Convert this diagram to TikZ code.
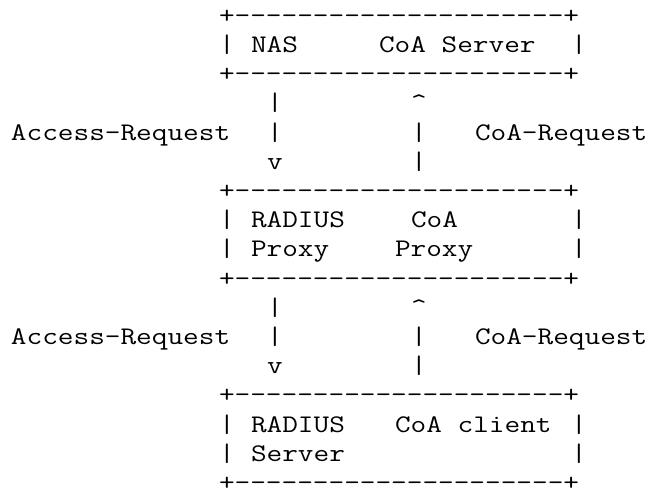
\documentclass[tikz,border=0pt]{standalone}
\usepackage{fontspec}
% typewriter face, widened so one character cell is 12pt
\newfontfamily\courfont{Latin Modern Mono}[FakeStretch=1.2, Ligatures=TeXOff]
\tikzset{
  mono/.style={font=\courfont\fontsize{19pt}{22pt}\selectfont,
    anchor=base west, inner sep=0pt, outer sep=0pt, text=black},
  rule/.style={mono, text depth=0pt}
}
% \cell{name}{column}{row}{text}: text placed on the character grid
\newcommand\cell[5][]{\node[mono,#1] (#2) at ({8.25pt+#3*12pt},{-17.5pt-#4*21.9pt}) {#5};}
\newcommand\boxrule{+---------------------+}
\begin{document}
\begin{tikzpicture}
\useasboundingbox (0,0) rectangle (489.75pt,-368.25pt);

% NAS / CoA Server
\cell[rule]{nasTop}{13}{0}{\boxrule}
\cell{nasL}{13}{1}{|}
\cell{nas}{15}{1}{NAS}
\cell{coaServer}{23}{1}{CoA Server}
\cell{nasR}{35}{1}{|}
\cell[rule]{nasBot}{13}{2}{\boxrule}

% first hop
\cell{arA1}{16}{3}{|}
\cell{coaUp1}{25}{3}{\textasciicircum}
\cell{accLbl1}{0}{4}{Access-Request}
\cell{arB1}{16}{4}{|}
\cell{coaB1}{25}{4}{|}
\cell{coaLbl1}{29}{4}{CoA-Request}
\cell{arDown1}{16}{5}{v}
\cell{coaC1}{25}{5}{|}

% RADIUS Proxy / CoA Proxy
\cell[rule]{pxTop}{13}{6}{\boxrule}
\cell{pxL1}{13}{7}{|}
\cell{radius1}{15}{7}{RADIUS}
\cell{coa1}{25}{7}{CoA}
\cell{pxR1}{35}{7}{|}
\cell{pxL2}{13}{8}{|}
\cell{proxyA}{15}{8}{Proxy}
\cell{proxyB}{24}{8}{Proxy}
\cell{pxR2}{35}{8}{|}
\cell[rule]{pxBot}{13}{9}{\boxrule}

% second hop
\cell{arA2}{16}{10}{|}
\cell{coaUp2}{25}{10}{\textasciicircum}
\cell{accLbl2}{0}{11}{Access-Request}
\cell{arB2}{16}{11}{|}
\cell{coaB2}{25}{11}{|}
\cell{coaLbl2}{29}{11}{CoA-Request}
\cell{arDown2}{16}{12}{v}
\cell{coaC2}{25}{12}{|}

% RADIUS Server / CoA client
\cell[rule]{srvTop}{13}{13}{\boxrule}
\cell{srvL1}{13}{14}{|}
\cell{radius2}{15}{14}{RADIUS}
\cell{coaClient}{24}{14}{CoA client}
\cell{srvR1}{35}{14}{|}
\cell{srvL2}{13}{15}{|}
\cell{server}{15}{15}{Server}
\cell{srvR2}{35}{15}{|}
\cell[rule]{srvBot}{13}{16}{\boxrule}
\end{tikzpicture}
\end{document}
